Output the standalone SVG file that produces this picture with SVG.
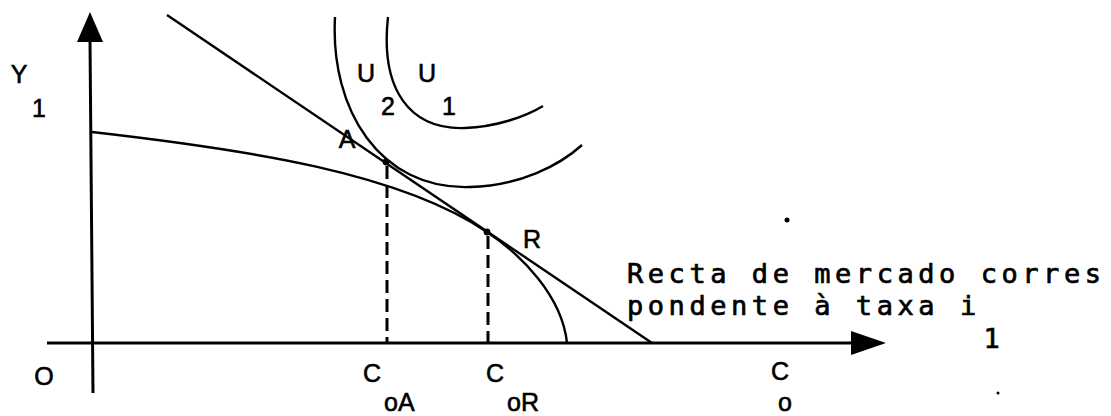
<svg xmlns="http://www.w3.org/2000/svg" width="1111" height="416" viewBox="0 0 1111 416">
<style>
.ax{stroke:#000;stroke-width:3;fill:none}
.ln{stroke:#000;stroke-width:2.4;fill:none}
.dash{stroke:#000;stroke-width:3;fill:none;stroke-dasharray:13 6}
.s{font-family:"Liberation Sans",Arial,sans-serif;font-size:25px;fill:#000;stroke:#000;stroke-width:0.6}
.m{font-family:"DejaVu Sans Mono","Liberation Mono",monospace;font-size:27px;fill:#000;stroke:#000;stroke-width:0.7;letter-spacing:4.55px}
</style>
<rect width="1111" height="416" fill="#fff"/>
<g id="axes">
<line class="ax" x1="90" y1="40" x2="93" y2="393"/>
<polygon points="90,12 77,42 103,42" fill="#000"/>
<line class="ax" x1="47" y1="343" x2="855" y2="343"/>
<polygon points="886,343 851,331 851,355" fill="#000"/>
</g>
<g id="connectors">
<line id="market-line" class="ln" x1="167" y1="15" x2="652" y2="343"/>
<path id="ppf" class="ln" d="M92,132 C250,150 400,173 487,232 C520,254 562,295 567,343"/>
<path id="u2" class="ln" d="M335,17 C330,110 380,190 470,187 C520,186 560,165 582,145"/>
<path id="u1" class="ln" d="M388,17 C380,90 410,130 465,128 C495,127 525,117 543,106"/>
<line class="dash" x1="387" y1="166" x2="387" y2="343"/>
<line class="dash" x1="488" y1="236" x2="488" y2="343"/>
</g>
<g id="point-A"><circle cx="386" cy="162" r="3.4" fill="#000"/><text class="s" x="347" y="148" text-anchor="middle">A</text></g>
<g id="point-R"><circle cx="487" cy="232" r="3.4" fill="#000"/><text class="s" x="532" y="248" text-anchor="middle">R</text></g>
<g id="labels">
<text class="s" x="19" y="83" text-anchor="middle">Y</text>
<text class="s" x="39" y="117" text-anchor="middle">1</text>
<text class="s" x="366" y="82" text-anchor="middle">U</text>
<text class="s" x="388" y="115" text-anchor="middle">2</text>
<text class="s" x="427" y="82" text-anchor="middle">U</text>
<text class="s" x="449" y="115" text-anchor="middle">1</text>
<text class="s" x="44" y="385" text-anchor="middle">O</text>
<text class="s" x="372" y="382" text-anchor="middle">C</text>
<text class="s" x="384" y="411">oA</text>
<text class="s" x="495" y="382" text-anchor="middle">C</text>
<text class="s" x="507" y="411">oR</text>
<text class="s" x="780" y="380" text-anchor="middle">C</text>
<text class="s" x="785" y="411" text-anchor="middle">o</text>
</g>
<g id="market-label">
<text class="m" x="627" y="283">Recta de mercado corres</text>
<text class="m" x="627" y="315">pondente à taxa i</text>
<text class="m" x="994" y="348" text-anchor="middle">1</text>
</g>
<g id="specks">
<circle cx="787" cy="220" r="2.5" fill="#000"/>
<circle cx="998" cy="393" r="1.5" fill="#000"/>
</g>
</svg>
